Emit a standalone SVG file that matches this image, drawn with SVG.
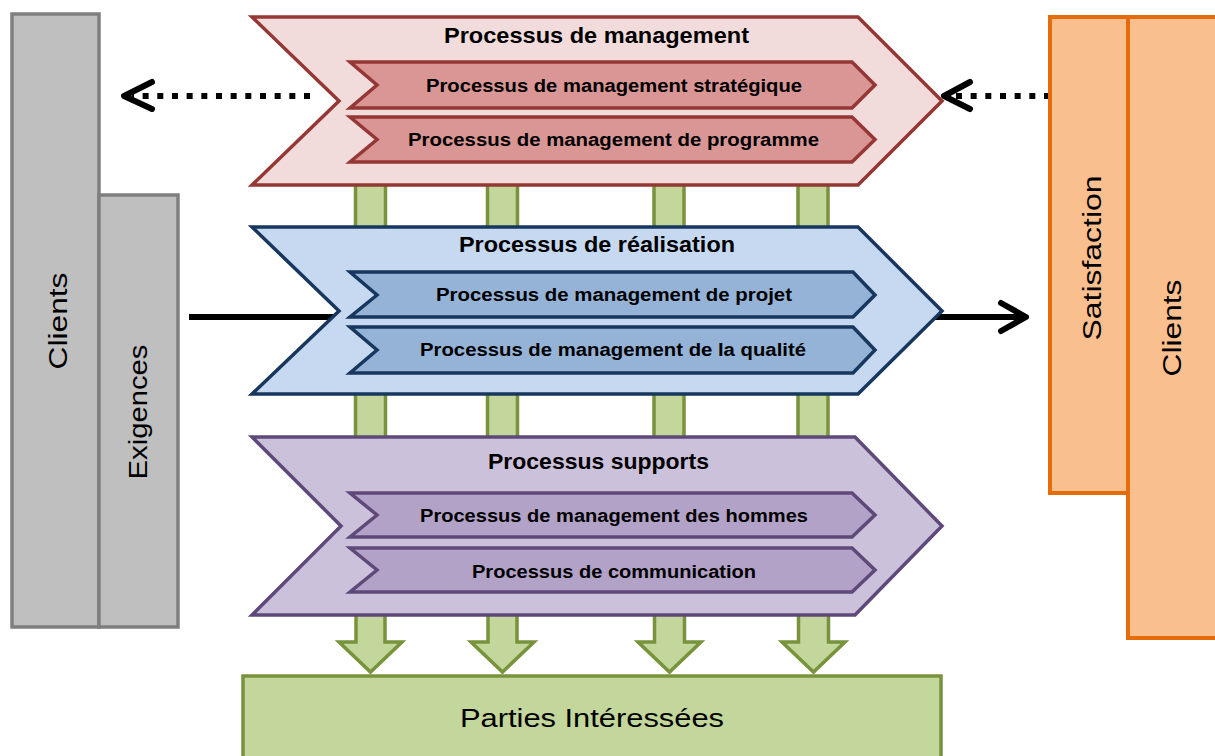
<svg xmlns="http://www.w3.org/2000/svg" width="1215" height="756" viewBox="0 0 1215 756">
<style>
.gray{fill:#bfbfbf;stroke:#7f7f7f;stroke-width:3.5}
.orange{fill:#f9bf8f;stroke:#e46c0a;stroke-width:4}
.green{fill:#c3d69b;stroke:#77933c;stroke-width:3.5}
.red-o{fill:#f2dcdb;stroke:#953735;stroke-width:3.5}
.red-i{fill:#d99694;stroke:#953735;stroke-width:3.5}
.blue-o{fill:#c6d9f1;stroke:#17375e;stroke-width:3.5}
.blue-i{fill:#95b3d7;stroke:#17375e;stroke-width:3.5}
.vio-o{fill:#ccc1da;stroke:#5f497a;stroke-width:3.5}
.vio-i{fill:#b3a2c7;stroke:#5f497a;stroke-width:3.5}
.t-big{font-family:"Liberation Sans",Arial,sans-serif;font-weight:bold;font-size:22px;fill:#000;text-anchor:middle}
.t-sm{font-family:"Liberation Sans",Arial,sans-serif;font-weight:bold;font-size:18px;fill:#000;text-anchor:middle}
.t-side{font-family:"Liberation Sans",Arial,sans-serif;font-size:26px;fill:#000;text-anchor:middle}
.dots{fill:none;stroke:#000;stroke-width:6;stroke-dasharray:6 8.67}
.solid{fill:none;stroke:#000;stroke-width:6}
.head{fill:none;stroke:#000;stroke-width:6;stroke-linecap:round;stroke-linejoin:round}
</style>

<g id="connectors">
  <rect class="green" x="355.5" y="180" width="30" height="260"/>
  <rect class="green" x="487.5" y="180" width="30" height="260"/>
  <rect class="green" x="654" y="180" width="30" height="260"/>
  <rect class="green" x="798" y="180" width="30" height="260"/>
  <polygon class="green" points="356,612 385,612 385,642 402,642 370.5,672 339,642 356,642"/>
  <polygon class="green" points="488,612 517,612 517,642 534,642 502.5,672 471,642 488,642"/>
  <polygon class="green" points="654.5,612 684.5,612 684.5,642 701,642 669.5,672 638,642 654.5,642"/>
  <polygon class="green" points="798.5,612 828.5,612 828.5,642 845,642 813.5,672 782,642 798.5,642"/>
  <path class="dots" d="M310,96 H132"/>
  <path class="head" d="M152,82 L124,96 L152,109"/>
  <path class="dots" d="M1050,96 H952"/>
  <path class="head" d="M970,82 L944,96 L970,109"/>
  <path class="solid" d="M189,317 H345"/>
  <path class="solid" d="M935,317 H1024"/>
  <path class="head" d="M1001,303 L1026,317 L1001,331"/>
</g>

<g id="clients-left">
  <rect class="gray" x="12" y="14" width="87" height="613"/>
  <text class="t-side" transform="translate(67,321) rotate(-90)" textLength="97" lengthAdjust="spacingAndGlyphs">Clients</text>
</g>
<g id="exigences">
  <rect class="gray" x="99" y="195" width="79" height="432"/>
  <text class="t-side" transform="translate(147,412) rotate(-90)" textLength="135" lengthAdjust="spacingAndGlyphs">Exigences</text>
</g>

<g id="satisfaction">
  <rect class="orange" x="1050" y="17" width="78" height="476"/>
  <text class="t-side" transform="translate(1101,258) rotate(-90)" textLength="165" lengthAdjust="spacingAndGlyphs">Satisfaction</text>
</g>
<g id="clients-right">
  <rect class="orange" x="1128" y="17" width="95" height="621"/>
  <text class="t-side" transform="translate(1181,328) rotate(-90)" textLength="97" lengthAdjust="spacingAndGlyphs">Clients</text>
</g>

<g id="management">
  <polygon class="red-o" points="252,17 858,17 942,101 858,185 252,185 339,101"/>
  <text class="t-big" x="596.5" y="43" textLength="305" lengthAdjust="spacingAndGlyphs">Processus de management</text>
</g>
<g id="management-strategique">
  <polygon class="red-i" points="350,62 852,62 875,85 852,108 350,108 377,85"/>
  <text class="t-sm" x="614" y="92" textLength="376" lengthAdjust="spacingAndGlyphs">Processus de management stratégique</text>
</g>
<g id="management-programme">
  <polygon class="red-i" points="350,117 852,117 875,139.5 852,162 350,162 377,139.5"/>
  <text class="t-sm" x="613.5" y="146" textLength="411" lengthAdjust="spacingAndGlyphs">Processus de management de programme</text>
</g>

<g id="realisation">
  <polygon class="blue-o" points="252,227 858,227 942,311 858,394 252,394 339,311"/>
  <text class="t-big" x="597" y="252" textLength="276" lengthAdjust="spacingAndGlyphs">Processus de réalisation</text>
</g>
<g id="management-projet">
  <polygon class="blue-i" points="350,272 853,272 875,295 853,317 350,317 377,295"/>
  <text class="t-sm" x="614" y="301" textLength="356" lengthAdjust="spacingAndGlyphs">Processus de management de projet</text>
</g>
<g id="management-qualite">
  <polygon class="blue-i" points="350,327 853,327 875,350 853,373 350,373 377,350"/>
  <text class="t-sm" x="613" y="356" textLength="386" lengthAdjust="spacingAndGlyphs">Processus de management de la qualité</text>
</g>

<g id="supports">
  <polygon class="vio-o" points="252,437 855,437 942,526 855,615 252,615 341,526"/>
  <text class="t-big" x="598.5" y="469" textLength="221" lengthAdjust="spacingAndGlyphs">Processus supports</text>
</g>
<g id="management-hommes">
  <polygon class="vio-i" points="350,493 852,493 875,515 852,537 350,537 377,515"/>
  <text class="t-sm" x="614" y="522" textLength="388" lengthAdjust="spacingAndGlyphs">Processus de management des hommes</text>
</g>
<g id="communication">
  <polygon class="vio-i" points="350,548 852,548 875,570 852,592 350,592 377,570"/>
  <text class="t-sm" x="614" y="578" textLength="284" lengthAdjust="spacingAndGlyphs">Processus de communication</text>
</g>

<g id="parties-interessees">
  <rect class="green" x="243" y="676" width="698" height="95"/>
  <text class="t-side" x="592" y="727" font-size="28" textLength="264" lengthAdjust="spacingAndGlyphs">Parties Intéressées</text>
</g>
</svg>
